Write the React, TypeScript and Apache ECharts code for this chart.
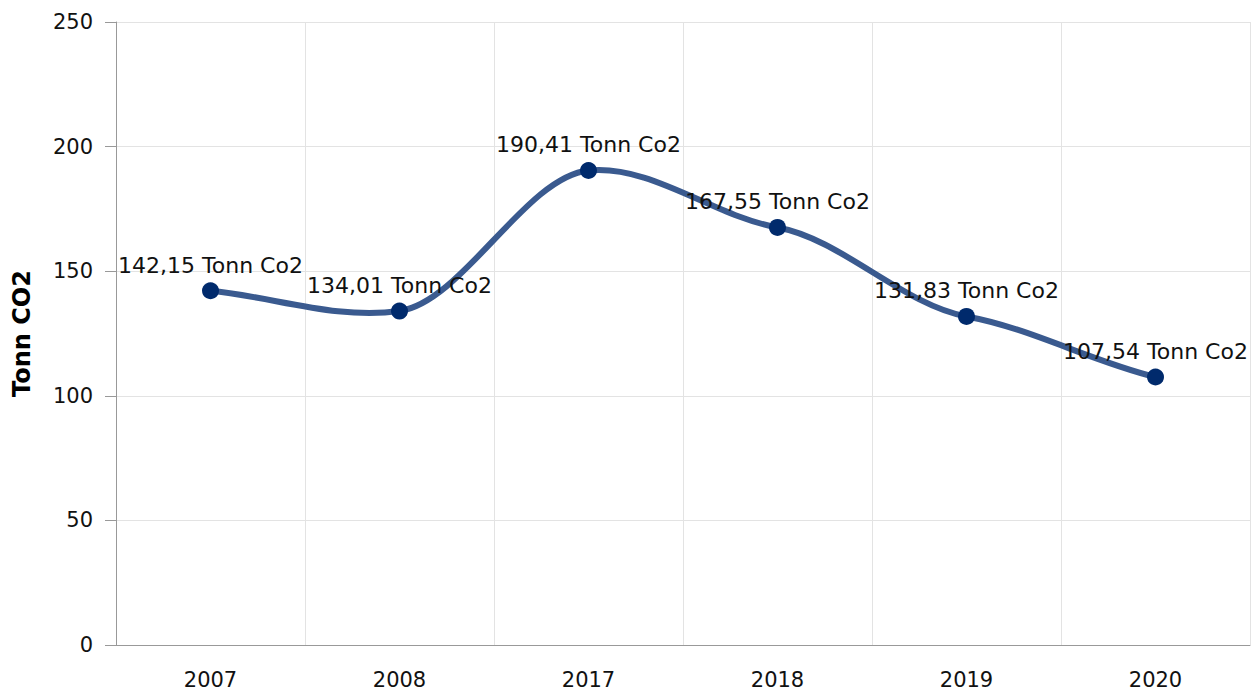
import React, { useEffect, useRef } from "react";
import * as echarts from "echarts";

const categories = ["2007", "2008", "2017", "2018", "2019", "2020"];
const values = [142.15, 134.01, 190.41, 167.55, 131.83, 107.54];
const yAxisName = "Tonn CO2";
const unit = "Tonn Co2";

export default function App() {
  const ref = useRef<HTMLDivElement>(null);
  useEffect(() => {
    if (!ref.current) return;
    const chart = echarts.init(ref.current, undefined, { renderer: "svg" });
    const font = "DejaVu Sans";

    const renderCurve = (params: any, api: any) => {
      if (params.dataIndex !== 0) return null;
      const pts = values.map((v, i) => api.coord([i, v]));
      const n = pts.length;
      const slopes: number[] = [];
      for (let i = 0; i < n; i++) {
        let m;
        if (i === 0) m = 0.9 * (pts[1][1] - pts[0][1]) / (pts[1][0] - pts[0][0]);
        else if (i === n - 1) m = 0.75 * (pts[n - 1][1] - pts[n - 2][1]) / (pts[n - 1][0] - pts[n - 2][0]);
        else m = 0.45 * (pts[i + 1][1] - pts[i - 1][1]) / (pts[i + 1][0] - pts[i - 1][0]);
        slopes.push(m);
      }
      let d = `M${pts[0][0]},${pts[0][1]}`;
      for (let i = 0; i < n - 1; i++) {
        const dx = (pts[i + 1][0] - pts[i][0]) / 3;
        const c1x = pts[i][0] + dx;
        const c1y = pts[i][1] + slopes[i] * dx;
        const c2x = pts[i + 1][0] - dx;
        const c2y = pts[i + 1][1] - slopes[i + 1] * dx;
        d += ` C${c1x},${c1y} ${c2x},${c2y} ${pts[i + 1][0]},${pts[i + 1][1]}`;
      }
      return {
        type: "path",
        shape: { pathData: d },
        style: { stroke: "#3a5a8f", lineWidth: 6, fill: "none", lineCap: "round", lineJoin: "round" },
      };
    };

    chart.setOption({
      animation: false,
      textStyle: { fontFamily: font },
      grid: { left: 116, right: 5, top: 22, bottom: 48, containLabel: false },
      xAxis: {
        type: "category",
        data: categories,
        boundaryGap: true,
        axisLine: { lineStyle: { color: "#999999", width: 1 } },
        axisTick: { alignWithLabel: true, length: 9, lineStyle: { color: "#999999" } },
        axisLabel: { color: "#111", fontSize: 21, fontFamily: font, margin: 24 },
        splitLine: { show: true, lineStyle: { color: "#e3e3e3", width: 1 } },
      },
      yAxis: {
        type: "value",
        min: 0,
        max: 250,
        interval: 50,
        name: yAxisName,
        nameLocation: "middle",
        nameGap: 82,
        nameTextStyle: { fontWeight: "bold", fontSize: 24, color: "#000", fontFamily: font },
        axisLine: { show: true, lineStyle: { color: "#999999", width: 1 } },
        axisTick: { show: true, length: 11, lineStyle: { color: "#999999" } },
        axisLabel: { color: "#111", fontSize: 21, fontFamily: font, margin: 23 },
        splitLine: { show: true, lineStyle: { color: "#e3e3e3", width: 1 } },
      },
      series: [
        {
          type: "custom",
          z: 2,
          clip: false,
          renderItem: renderCurve,
          data: values.map((v, i) => [i, v]),
          encode: { x: 0, y: 1 },
          silent: true,
        },
        {
          type: "line",
          z: 3,
          data: values,
          symbol: "circle",
          symbolSize: 17,
          lineStyle: { width: 0, opacity: 0 },
          itemStyle: { color: "#002a6c" },
          label: {
            show: true,
            position: "top",
            distance: 6,
            fontSize: 22,
            fontFamily: font,
            color: "#111",
            formatter: (p: any) => p.value.toFixed(2).replace(".", ",") + " " + unit,
          },
        },
      ],
    });
    return () => chart.dispose();
  }, []);
  return <div ref={ref} style={{ width: 1255, height: 693, position: "absolute", left: 0, top: 0 }} />;
}
